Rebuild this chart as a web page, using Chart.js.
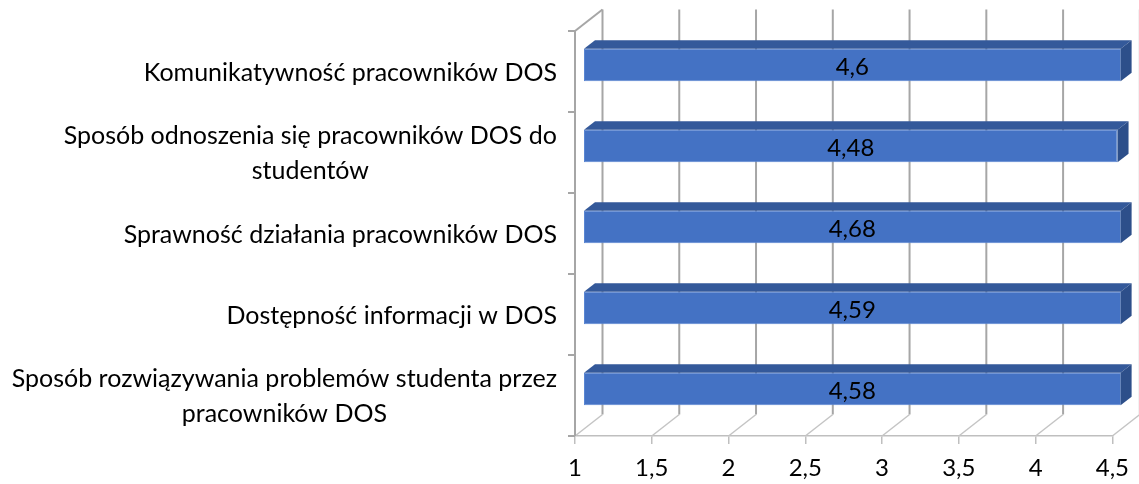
<!DOCTYPE html>
<html><head><meta charset="utf-8">
<script src="https://cdn.jsdelivr.net/npm/chart.js@4.4.1/dist/chart.umd.min.js"></script>
<style>html,body{margin:0;padding:0;background:#fff;} #wrap{width:1139px;height:484px;position:relative;}</style>
</head><body><div id="wrap"><canvas id="c"></canvas></div>
<script>
const categories = [
  'Komunikatywność pracowników DOS',
  ['Sposób odnoszenia się pracowników DOS do', 'studentów'],
  'Sprawność działania pracowników DOS',
  'Dostępność informacji w DOS',
  ['Sposób rozwiązywania problemów studenta przez', 'pracowników DOS']
];
const values = [4.6, 4.48, 4.68, 4.59, 4.58];
const xTickLabels = ['1', '1,5', '2', '2,5', '3', '3,5', '4', '4,5'];
const xMin = 1, xMax = 4.5, xStep = 0.5;

const FONT = 'Lato';
const CAT_SIZE = 25;
const NUM_SIZE = 24;
const D = {x: 27.5, y: -21.5};
const FRONT = 0.3, BACK = 0.7;

function fmt(v) { return String(v).replace('.', ','); }

function line(ctx, x1, y1, x2, y2) {
  ctx.beginPath(); ctx.moveTo(x1, y1); ctx.lineTo(x2, y2); ctx.stroke();
}

const fake3d = {
  id: 'fake3d',
  beforeDatasetsDraw(chart) {
    const {ctx, chartArea: a, scales: {x, y}} = chart;
    ctx.save();
    ctx.lineCap = 'butt';
    // back wall vertical grid lines
    ctx.strokeStyle = '#a6a6a6'; ctx.lineWidth = 2;
    x.ticks.forEach(t => {
      const px = x.getPixelForValue(t.value);
      line(ctx, px + D.x, a.top + D.y, px + D.x, a.bottom + D.y);
    });
    // floor diagonals
    ctx.strokeStyle = '#c4c4c4'; ctx.lineWidth = 1.5;
    x.ticks.forEach(t => {
      const px = x.getPixelForValue(t.value);
      line(ctx, px, a.bottom, px + D.x, a.bottom + D.y);
    });
    // left wall
    ctx.strokeStyle = '#a6a6a6'; ctx.lineWidth = 2;
    line(ctx, a.left, a.top, a.left, a.bottom);
    line(ctx, a.left, a.top, a.left + D.x, a.top + D.y);
    for (let i = 0; i <= categories.length; i++) {
      const py = y.getPixelForValue(i - 0.5);
      line(ctx, a.left - 7, py, a.left, py);
    }
    ctx.restore();
    ctx.save();
    ctx.translate(D.x * FRONT, D.y * FRONT);
  },
  afterDatasetsDraw(chart) {
    const {ctx, chartArea: a, scales: {x, y}} = chart;
    ctx.restore();
    const meta = chart.getDatasetMeta(0);
    const fx = D.x * FRONT, fy = D.y * FRONT, bx = D.x * BACK, by = D.y * BACK;
    const maxPx = x.getPixelForValue(x.max);
    const minPx = x.getPixelForValue(x.min);
    ctx.save();
    meta.data.forEach((bar, i) => {
      const p = bar.getProps(['x', 'y', 'base', 'height'], true);
      const xr = Math.min(p.x, maxPx), xl = Math.max(p.base, minPx);
      const yt = p.y - p.height / 2, yb = p.y + p.height / 2;
      // top face
      ctx.fillStyle = '#34599a';
      ctx.beginPath();
      ctx.moveTo(xl + fx, yt + fy); ctx.lineTo(xr + fx, yt + fy);
      ctx.lineTo(xr + bx, yt + by); ctx.lineTo(xl + bx, yt + by); ctx.closePath(); ctx.fill();
      // side face
      ctx.fillStyle = '#2d4f8a';
      ctx.beginPath();
      ctx.moveTo(xr + fx, yt + fy); ctx.lineTo(xr + bx, yt + by);
      ctx.lineTo(xr + bx, yb + by); ctx.lineTo(xr + fx, yb + fy); ctx.closePath(); ctx.fill();
      // value label
      ctx.fillStyle = '#000';
      ctx.font = NUM_SIZE + 'px ' + FONT;
      ctx.textAlign = 'center'; ctx.textBaseline = 'middle';
      ctx.fillText(fmt(values[i]), (xl + xr) / 2 + fx, p.y + fy + 2);
    });
    // category labels
    ctx.font = CAT_SIZE + 'px ' + FONT;
    ctx.fillStyle = '#000';
    ctx.textAlign = 'center'; ctx.textBaseline = 'middle';
    const rightX = a.left - 18;
    const lh = 35;
    categories.forEach((lab, i) => {
      const lines = Array.isArray(lab) ? lab : [lab];
      const w = Math.max(...lines.map(s => ctx.measureText(s).width));
      const cx = rightX - w / 2;
      const cy = y.getPixelForValue(i);
      lines.forEach((s, k) => {
        ctx.fillText(s, cx, cy + (k - (lines.length - 1) / 2) * lh + 1);
      });
    });
    ctx.restore();
  }
};

function build() {
  new Chart(document.getElementById('c'), {
    type: 'bar',
    data: {
      labels: categories,
      datasets: [{
        data: values,
        base: xMin,
        backgroundColor: '#4472C4',
        borderColor: '#5a86d2',
        borderWidth: 1,
        borderSkipped: false,
        barPercentage: 0.4,
        categoryPercentage: 1,
        clip: 0
      }]
    },
    options: {
      responsive: true,
      maintainAspectRatio: false,
      animation: false,
      indexAxis: 'y',
      layout: {padding: {left: 575, right: 23, top: 31, bottom: 0}},
      plugins: {legend: {display: false}, tooltip: {enabled: false}},
      scales: {
        x: {
          min: xMin, max: xMax,
          afterFit: (s) => { s.height = 48; },
          ticks: {
            stepSize: xStep, autoSkip: false, maxRotation: 0,
            callback: (v, i) => xTickLabels[i],
            font: {family: FONT, size: NUM_SIZE, lineHeight: 1.2}, color: '#000', padding: 10
          },
          grid: {drawOnChartArea: false, drawTicks: true, tickLength: 8, color: '#bfbfbf', lineWidth: 1.5},
          border: {display: true, color: '#bfbfbf', width: 1.5}
        },
        y: {display: false}
      }
    },
    plugins: [fake3d]
  });
}
if (document.fonts && document.fonts.load) {
  Promise.all([document.fonts.load(CAT_SIZE + 'px ' + FONT), document.fonts.load(NUM_SIZE + 'px ' + FONT)]).then(build, build);
} else { build(); }
</script>
</body></html>
